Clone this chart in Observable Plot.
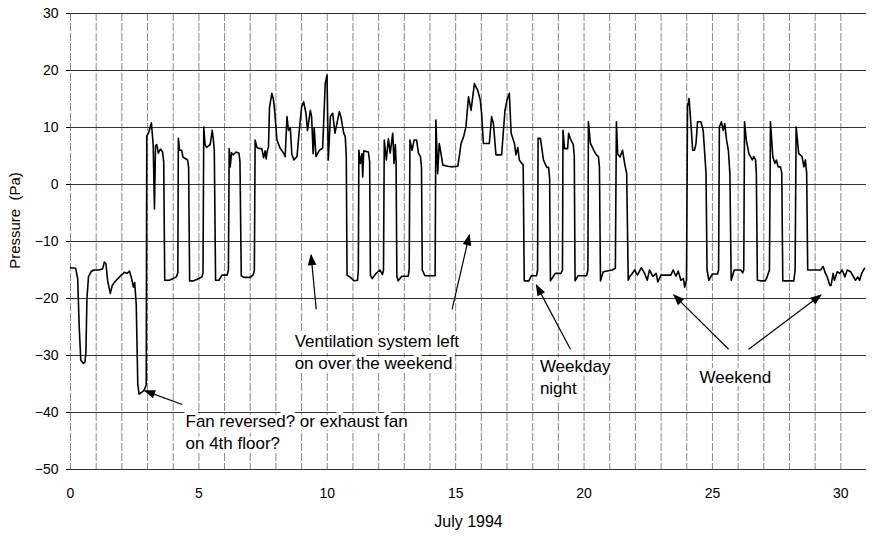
<!DOCTYPE html>
<html><head><meta charset="utf-8">
<script src="https://cdn.jsdelivr.net/npm/d3@7"></script>
<script src="https://cdn.jsdelivr.net/npm/@observablehq/plot@0.6"></script>
<style>body{margin:0;background:#fff;} #chart{width:874px;height:536px;}</style>
</head><body><div id="chart"></div>
<script>
// time in days since 1 July 1994 00:00 (x axis "July 1994")
const days = [
0,0.2,0.28,0.34,0.4,0.5,0.56,0.6,0.64,0.7,0.8,0.9,1.1,1.25,1.32,1.38,1.45,1.55,1.62,1.7,1.85,2.0,2.1,2.2,2.3,2.38,2.45,2.5,2.56,2.62,2.67,2.75,2.85,2.92,2.95,
2.97,3.05,3.15,3.22,3.27,3.31,3.36,3.42,3.5,3.58,3.63,3.67,3.85,4.0,4.12,4.18,
4.2,4.25,4.33,4.38,4.45,4.56,4.6,4.64,4.8,5.0,5.12,5.16,
5.19,5.24,5.3,5.38,5.44,5.52,5.56,5.6,5.65,5.78,5.9,6.1,6.15,
6.18,6.22,6.27,6.33,6.45,6.56,6.6,6.65,6.75,7.0,7.12,7.16,
7.19,7.26,7.35,7.45,7.52,7.58,7.62,7.66,7.71,7.75,7.84,7.9,7.95,8.04,8.17,8.3,8.36,8.43,8.49,8.56,8.62,8.7,8.82,8.91,9.0,9.08,9.17,9.23,9.34,9.39,9.45,9.49,9.56,9.69,9.82,9.92,9.99,10.04,10.12,10.21,10.3,10.47,10.53,10.64,10.7,10.74,10.77,10.9,11.05,11.18,11.21,
11.23,11.29,11.35,11.38,11.42,11.6,11.65,11.68,11.75,11.9,12.05,12.15,12.19,
12.22,12.3,12.38,12.45,12.55,12.6,12.65,12.68,12.71,12.76,12.9,13.15,13.19,
13.22,13.3,13.38,13.48,13.55,13.63,13.67,13.7,13.8,14.1,14.2,
14.23,14.3,14.36,14.43,14.5,14.69,14.82,15.08,15.14,15.21,15.31,15.4,15.5,15.6,15.73,15.86,15.96,16.01,16.08,16.31,16.4,16.47,16.57,16.79,16.92,17.0,17.09,17.16,17.29,17.35,17.42,17.48,17.57,17.63,17.67,17.85,17.95,18.15,18.19,
18.21,18.3,18.42,18.5,18.55,18.62,18.66,18.69,18.75,18.88,19.1,19.16,
19.18,19.24,19.36,19.4,19.47,19.58,19.62,19.65,19.77,20.1,20.15,
20.17,20.25,20.38,20.48,20.56,20.6,20.64,20.75,21.1,21.22,
21.26,21.31,21.4,21.5,21.6,21.66,21.72,21.8,21.85,21.97,22.08,22.23,22.36,22.46,22.55,22.68,22.81,22.87,23.0,23.38,23.47,23.58,23.67,23.77,23.87,23.92,23.99,
24.03,24.09,24.17,24.23,24.3,24.36,24.42,24.55,24.64,24.7,24.75,24.79,24.86,25.0,25.2,25.24,
25.27,25.35,25.42,25.48,25.55,25.62,25.68,25.73,25.85,26.1,26.18,26.22,
26.25,26.32,26.42,26.55,26.61,26.68,26.71,26.75,26.87,27.06,27.13,27.22,
27.26,27.35,27.43,27.49,27.56,27.65,27.7,27.74,28.17,28.22,
28.26,28.36,28.49,28.56,28.62,28.67,28.71,28.95,29.21,29.31,29.4,29.47,29.57,29.62,29.7,29.75,29.86,29.96,30.05,30.16,30.25,30.38,30.57,30.66,30.73,30.81,30.92
];
const pressure = [
-14.6,-14.7,-16.5,-25,-30.8,-31.4,-31.2,-29.5,-20,-16.2,-15.3,-15,-15,-14.8,-13.6,-13.9,-17,-19.1,-17.8,-17.2,-16.5,-15.8,-15.4,-15.6,-15.2,-16.5,-18,-17.2,-21,-35,-36.8,-36.5,-36.2,-35.5,-35.2,
8.5,9.2,10.8,7,-4.3,6.8,7,5.5,6.2,5.8,4,-16.8,-16.8,-16.5,-16.2,-15.5,
8.1,6,6,4.8,4.6,4.3,3,-16.9,-16.9,-16.5,-16.2,-15.5,
10.1,7,6.5,6.8,7,9.5,8,6,-16.8,-16.8,-15.9,-15.9,-15,
6.3,3.1,5.6,5.2,5.7,5.5,4,-16,-16.3,-16.3,-15.8,-15,
7.8,6.5,6.3,6.3,4.7,5.9,4.5,5.8,6.6,13.5,16,15,13,7.8,6.3,5.5,4.9,11.9,9.5,10,5.3,4.3,4.9,9.5,13.6,14.5,12.5,9.5,13,11.9,5.4,10,4.9,6,6.4,17.7,19.2,4.3,11.9,12.5,9,12.8,11.9,9,8.4,5,-15.9,-16.3,-16.9,-16.8,-15,
6,3.7,5.4,1.3,5.9,5.7,4,-15.9,-16.5,-15.6,-15,-15.8,-15,
7.8,4.3,8,5.5,9,3.7,7,4,-16.1,-16.9,-16.1,-16.1,-15,
7.8,6,7.8,7.8,5.5,4.9,3,-15,-16,-16,-16,
11.3,1.9,7.2,5.4,3.4,3.2,3.1,3.2,4.9,7.2,8.4,10.1,15.4,13,17.7,16.5,14.8,12.5,7.2,7.2,11.9,10.7,5.2,5.2,13,14.8,16,9,7.2,5.2,6.5,4.3,3.7,3.5,-16.9,-16.9,-16,-16,-15,
8.1,8.1,4.3,3.5,3,3,1,-16.9,-16.5,-15.6,-15.6,-15,
9.5,6.3,6.3,9,8,7,5,-16.9,-16,-16,-15,
11,7.2,6,5.2,4.9,3,-16.9,-15.3,-15,-14.7,
11,5.4,4.8,6,3.2,2,-16.8,-16,-15.8,-15,-15.9,-14.6,-15.6,-16.8,-15,-16.1,-15.6,-17.1,-15.9,-15.9,-15,-16.1,-15.2,-16.8,-16.5,-18,-16.8,
13.6,15.1,10.1,6,6,7.2,11,11,9.5,5.4,2,-15,-16.8,-15.7,-15.7,-15,
10.1,11,9.5,10.7,7.8,6,1.9,-16.8,-15,-15,-15.5,-15,
11,7.8,5.4,4.3,4.9,4.3,2,-16.8,-16.9,-16.9,-16.2,-15,
11,4.9,3.7,4.3,3.1,3.1,2,-16.9,-16.9,-15,
10.1,5.4,4.9,3.1,4.3,2,-15,-15,-15,-14.4,-15.6,-16.2,-17.7,-17.7,-15.6,-16.8,-15.3,-15.6,-15,-16.2,-15,-15.3,-16.8,-16.2,-16.8,-15.6,-14.7
];
const xTicks = [0, 5, 10, 15, 20, 25, 30];
const yTicks = [-50, -40, -30, -20, -10, 0, 10, 20, 30];
const dayLines = d3.range(0, 31);
const xTitle = "July 1994";
const yTitle = "Pressure  (Pa)";
const notes = [
  {text: "Fan reversed? or exhaust fan\non 4th floor?", x: 4.48, y: -39.8},
  {text: "Ventilation system left\non over the weekend", x: 8.73, y: -25.7},
  {text: "Weekday\nnight", x: 18.28, y: -30.2},
  {text: "Weekend", x: 24.5, y: -32.1}
];
const pointers = [
  {x1: 4.35, y1: -38.6, x2: 2.9, y2: -36.2},
  {x1: 9.57, y1: -21.9, x2: 9.37, y2: -12.4},
  {x1: 14.86, y1: -21.9, x2: 15.53, y2: -8.9},
  {x1: 19.47, y1: -28.9, x2: 18.15, y2: -17.7},
  {x1: 25.63, y1: -28.9, x2: 23.5, y2: -19.4},
  {x1: 26.41, y1: -28.9, x2: 29.22, y2: -19.4}
];

const series = days.map((d, i) => ({day: d, p: pressure[i]}));

const chart = Plot.plot({
  width: 874, height: 536,
  marginLeft: 70, marginRight: 8, marginTop: 13, marginBottom: 67,
  style: {fontFamily: "'Liberation Sans', Arial, sans-serif", fontSize: "14px", background: "white", color: "black"},
  x: {domain: [0, 31]},
  y: {domain: [-50, 30]},
  marks: [
    Plot.ruleX(dayLines, {stroke: "#888", strokeWidth: 1, strokeDasharray: "8,2"}),
    Plot.ruleY(yTicks, {stroke: "#333", strokeWidth: 1}),
    Plot.axisX(xTicks, {tickSize: 0, tickPadding: 19, fontSize: 14, label: null}),
    Plot.axisY(yTicks, {tickSize: 4, tickPadding: 8, fontSize: 14, label: null}),
    Plot.text([xTitle], {frameAnchor: "bottom", lineAnchor: "top", dy: 46, fontSize: 16}),
    Plot.text([yTitle], {frameAnchor: "left", textAnchor: "middle", dx: -55, dy: -21, rotate: -90, fontSize: 15}),
    Plot.text(notes, {x: "x", y: "y", text: "text", textAnchor: "start", lineAnchor: "top", fontSize: 17, lineHeight: 1.3, fill: "black", stroke: "white", strokeWidth: 7}),
    Plot.line(series, {x: "day", y: "p", stroke: "black", strokeWidth: 1.6}),
    Plot.link(pointers, {x1: "x1", y1: "y1", x2: "x2", y2: "y2", stroke: "black", strokeWidth: 1.2, markerEnd: "arrow"})
  ]
});
document.getElementById("chart").appendChild(chart);
// filled triangular arrowheads
d3.select(chart).selectAll("marker").attr("markerWidth", 12).attr("markerHeight", 12).attr("overflow", "visible")
  .selectAll("path").attr("d", "M-7,-3L1,0L-7,3Z").attr("fill", "black").attr("stroke", "none");
</script>
</body></html>
